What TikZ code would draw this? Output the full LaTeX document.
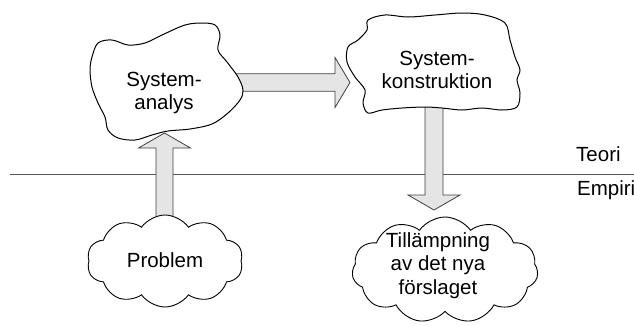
\documentclass[tikz,border=0pt]{standalone}
\usepackage{fontspec}
\setmainfont{Liberation Sans}
\usetikzlibrary{shapes.symbols,calc}
\begin{document}
\begin{tikzpicture}[x=1pt,y=-1pt,
  lbl/.style={font=\fontsize{20.5}{23.5}\selectfont,align=center,inner sep=0pt},
  blob/.style={draw=black,line width=1pt,fill=white},
  cloudbox/.style={cloud,draw=black,line width=0.9pt,fill=white,cloud puff arc=110,inner sep=0pt},
  blockarrow/.style={draw=black!75,line width=0.8pt,fill=gray!20,line join=miter},
  divider/.style={draw=black!65,line width=0.8pt}]
\useasboundingbox (0,0) rectangle (634,325);
% divider
\coordinate (L) at (10,174);
\coordinate (R) at (634,174);
\draw[divider] (L) -- (R);
% arrow coordinates
\coordinate (rA) at (230,82.5);  \coordinate (rB) at (350,82.5);
\coordinate (uA) at (164.5,228); \coordinate (uB) at (164.5,133);
\coordinate (dA) at (434,100);   \coordinate (dB) at (434,210);
% right arrow
\draw[blockarrow] ($(rA)+(0,-8.75)$) -- ($(rB)+(-15,-8.75)$) -- ($(rB)+(-15,-25)$) -- (rB)
  -- ($(rB)+(-15,25)$) -- ($(rB)+(-15,8.75)$) -- ($(rA)+(0,8.75)$) -- cycle;
% up arrow
\draw[blockarrow] ($(uA)+(-8.5,0)$) -- ($(uB)+(-8.5,15)$) -- ($(uB)+(-26,15)$) -- (uB)
  -- ($(uB)+(26,15)$) -- ($(uB)+(8.5,15)$) -- ($(uA)+(8.5,0)$) -- cycle;
% down arrow
\draw[blockarrow] ($(dA)+(-9,0)$) -- ($(dB)+(-9,-15)$) -- ($(dB)+(-26,-15)$) -- (dB)
  -- ($(dB)+(26,-15)$) -- ($(dB)+(9,-15)$) -- ($(dA)+(9,0)$) -- cycle;
% blob 1
\draw[blob] plot[smooth cycle,tension=0.55] coordinates {
 (98,43) (112,40) (128,45) (145,43) (162,35) (185,25) (202,23) (215,25) (220,35)
 (218,50) (227,62) (238,77) (243,90) (240,100) (228,113) (212,124) (190,129)
 (168,131) (152,135) (135,140) (118,138) (108,130) (105,117) (98,103) (92,87)
 (90,70) (92,57)};
% blob 2
\draw[blob] plot[smooth cycle,tension=0.55] coordinates {
 (368,20) (385,15) (408,17) (435,15) (462,13) (485,15) (505,23) (510,40) (515,57)
 (520,70) (517,80) (520,93) (517,107) (502,110) (482,108) (462,110) (442,108)
 (425,107) (402,108) (382,110) (368,113) (363,103) (365,90) (355,77) (347,62)
 (348,47) (358,40) (367,30)};
% clouds
\node[cloudbox,cloud puffs=10,minimum width=156pt,minimum height=92pt] (pc) at (165,261) {};
\node[cloudbox,cloud puffs=11,minimum width=186pt,minimum height=106pt] (tc) at (445,270) {};
% texts
\node[lbl] (sa) at (164,93) {System-\\analys};
\node[lbl] (sk) at (437,70) {System-\\konstruktion};
\node[lbl] (pr) at (165,260.5) {Problem};
\node[lbl] (ti) at (438,265.5) {Tillämpning\\av det nya\\förslaget};
\node[lbl,anchor=base west] (te) at (576,161) {Teori};
\node[lbl,anchor=base west] (em) at (577,195) {Empiri};
\end{tikzpicture}
\end{document}
